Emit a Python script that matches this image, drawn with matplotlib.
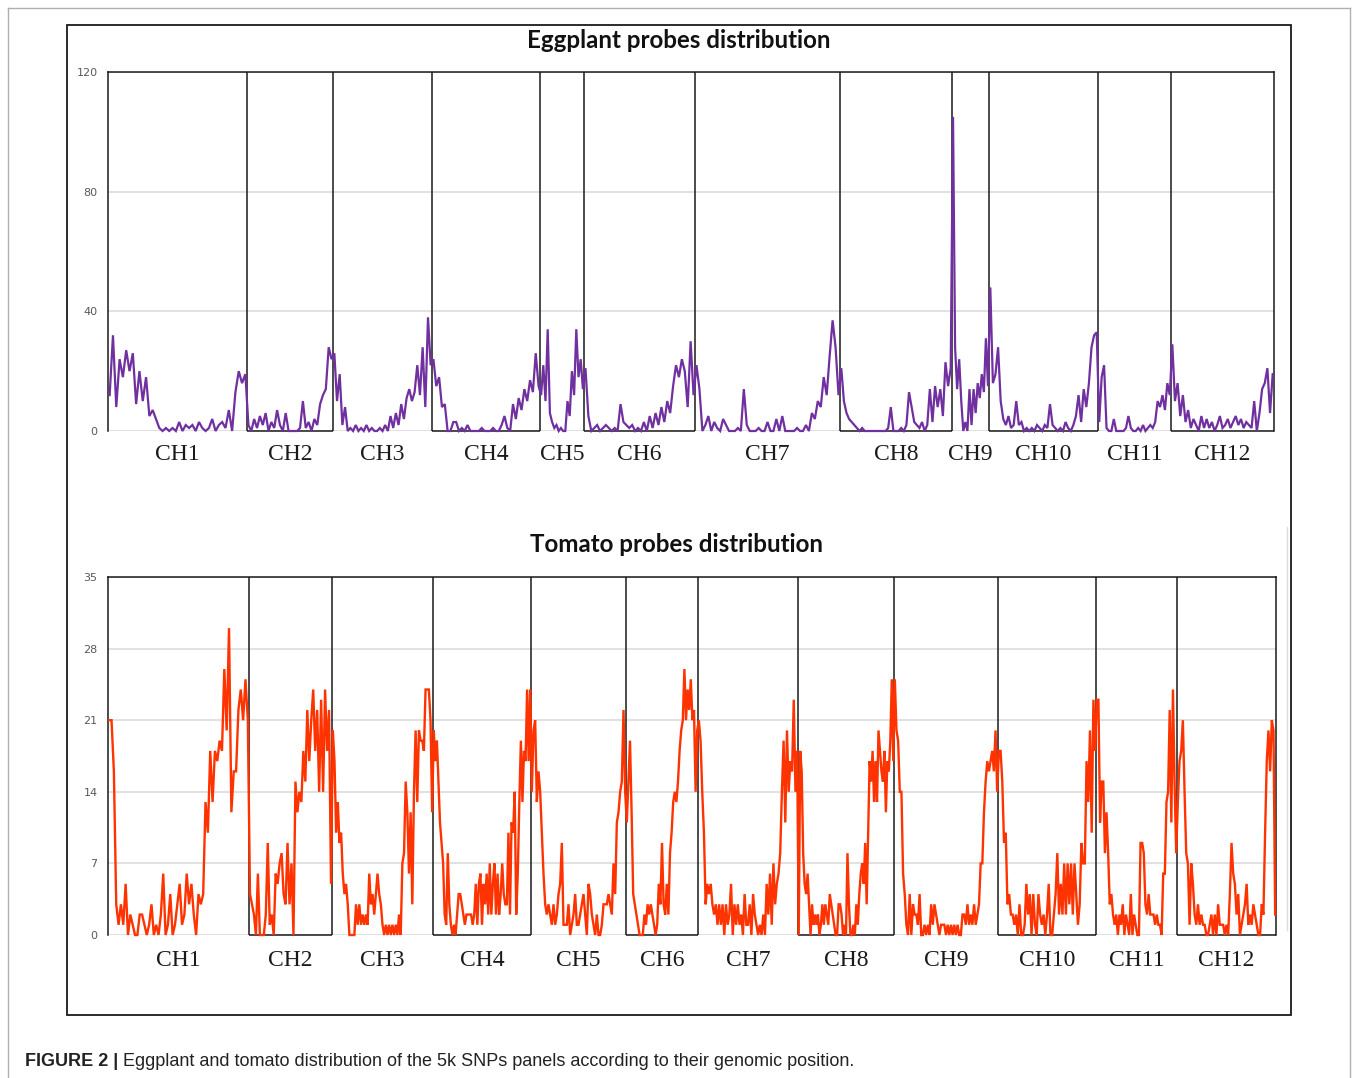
import matplotlib
matplotlib.use("Agg")
import matplotlib.pyplot as plt
import matplotlib.transforms as mtransforms
from matplotlib.lines import Line2D
from matplotlib.patches import Rectangle
import numpy as np

# ---------------- data ----------------
chrom_labels = ["CH1", "CH2", "CH3", "CH4", "CH5", "CH6",
                "CH7", "CH8", "CH9", "CH10", "CH11", "CH12"]

# relative chromosome lengths (as drawn)
eggplant_lengths = [139, 86, 99, 108, 44, 111, 145, 112, 37, 109, 73, 103]
tomato_lengths = [141, 83, 101, 98, 95, 72, 100, 96, 104, 98, 81, 99]

# number of probes per bin, eggplant
egg_ch1 = [12, 32, 8, 24, 18, 27, 20, 26, 9, 20, 10, 18, 5, 7, 4, 1, 0, 1, 0, 1, 0, 3, 0, 2, 1,
           2, 0, 3, 1, 0, 1, 4, 0, 2, 3, 1, 7, 0, 13, 20, 16, 19]
egg_ch2 = [2, 0, 4, 1, 5, 2, 6, 0, 3, 1, 7, 2, 0, 6, 0, 0, 0, 0, 1, 10, 1, 3, 0, 4, 2, 9, 12, 14, 28, 24]
egg_ch3 = [26, 10, 19, 2, 8, 0, 1, 0, 2, 0, 1, 0, 2, 0, 1, 0, 0, 1, 0, 2, 0, 5, 1, 6, 2, 9, 4,
           11, 14, 10, 13, 22, 12, 28, 8, 38, 22]
egg_ch4 = [24, 15, 18, 8, 9, 0, 0, 3, 3, 0, 1, 0, 2, 0, 0, 0, 0, 1, 0, 0, 0, 1, 0, 0, 2, 5, 1, 0,
           9, 4, 11, 7, 14, 10, 17, 13, 26, 15]
egg_ch5 = [12, 22, 10, 34, 6, 3, 1, 2, 0, 1, 0, 0, 10, 5, 20, 12, 34, 18, 24, 14]
egg_ch6 = [21, 5, 0, 1, 2, 0, 1, 2, 1, 0, 1, 0, 9, 3, 2, 1, 2, 0, 1, 0, 3, 0, 5, 1, 6, 2, 8, 3,
           10, 6, 15, 22, 18, 24, 20, 8, 30, 12]
egg_ch7 = [22, 14, 0, 2, 5, 0, 3, 1, 0, 4, 2, 0, 0, 0, 1, 0, 14, 2, 0, 0, 0, 1, 0, 0, 3, 0, 0, 4,
           0, 5, 0, 0, 0, 0, 1, 0, 0, 2, 0, 6, 4, 10, 8, 18, 12, 25, 37, 28, 12]
egg_ch8 = [21, 10, 6, 4, 3, 2, 1, 0, 1, 0, 0, 0, 0, 0, 0, 0, 0, 0, 1, 8, 0, 0, 0, 1, 0, 2, 13, 8,
           3, 2, 1, 3, 0, 2, 14, 3, 15, 8, 14, 5, 23, 15, 21]
egg_ch9 = [105, 28, 14, 24, 10, 0, 3, 0, 14, 2, 14, 6, 16, 11, 19, 13, 31, 15]
egg_ch10 = [48, 16, 19, 28, 10, 4, 2, 5, 1, 2, 10, 2, 3, 0, 1, 0, 1, 0, 2, 1, 0, 2, 1, 9, 2, 1, 0,
            1, 0, 3, 1, 0, 2, 5, 12, 3, 14, 8, 16, 28, 32, 33]
egg_ch11 = [3, 18, 22, 1, 0, 0, 4, 0, 0, 0, 0, 1, 5, 1, 0, 0, 1, 0, 2, 0, 1, 2, 1, 3, 10, 8, 12,
            7, 16, 12]
egg_ch12 = [29, 10, 16, 5, 12, 3, 7, 1, 4, 2, 0, 5, 1, 4, 1, 3, 0, 2, 5, 1, 2, 4, 1, 3, 5, 2, 4,
            1, 3, 2, 1, 10, 0, 6, 14, 16, 21, 6, 19]

# number of probes per bin, tomato
tom_ch1 = [21, 21, 16, 3, 1, 3, 1, 5, 0, 2, 1, 0, 0, 2, 2, 1, 0, 1, 3, 0, 1, 0, 2, 6, 0, 1, 4, 0,
           1, 3, 5, 1, 2, 6, 3, 5, 2, 0, 4, 3, 4, 13, 10, 18, 13, 18, 17, 19, 18, 26, 20, 30, 12,
           16, 16, 22, 24, 21, 25, 21]
tom_ch2 = [4, 3, 2, 0, 6, 0, 0, 0, 2, 9, 1, 2, 0, 6, 5, 7, 8, 4, 3, 9, 3, 7, 0, 15, 12, 14, 13,
           18, 15, 22, 17, 21, 24, 18, 22, 14, 23, 14, 24, 18, 22, 5]
tom_ch3 = [20, 17, 10, 13, 9, 10, 6, 4, 5, 3, 0, 0, 0, 0, 3, 1, 3, 1, 2, 1, 2, 1, 6, 3, 4, 2, 4,
           6, 4, 3, 1, 0, 1, 0, 1, 0, 1, 0, 1, 0, 2, 0, 7, 8, 15, 12, 6, 12, 3, 14, 20, 13, 20,
           19, 19, 18, 24, 24, 24, 21, 12]
tom_ch4 = [20, 17, 19, 15, 11, 9, 7, 2, 1, 8, 3, 1, 0, 1, 0, 2, 4, 4, 3, 2, 1, 2, 2, 2, 2, 1, 2,
           5, 1, 5, 6, 1, 5, 3, 6, 2, 7, 2, 5, 7, 2, 6, 2, 4, 7, 4, 3, 3, 10, 2, 11, 10, 14, 2,
           6, 13, 19, 13, 18, 17, 24, 17, 24]
tom_ch5 = [14, 20, 21, 13, 16, 14, 10, 6, 3, 2, 3, 2, 1, 3, 1, 2, 4, 5, 9, 1, 1, 1, 3, 0, 1, 2,
           4, 1, 1, 2, 3, 4, 2, 0, 5, 4, 2, 1, 0, 2, 0, 0, 1, 3, 3, 3, 4, 3, 2, 7, 4, 11, 12, 14,
           15, 22, 14]
tom_ch6 = [11, 15, 19, 12, 4, 3, 2, 1, 0, 0, 0, 2, 1, 3, 2, 3, 2, 1, 0, 1, 5, 3, 9, 3, 2, 5, 2,
           8, 10, 13, 14, 13, 15, 18, 20, 21, 26, 21, 24, 22, 25, 21, 22, 14, 20]
tom_ch7 = [21, 19, 14, 10, 3, 5, 4, 5, 3, 2, 3, 1, 3, 1, 3, 0, 3, 1, 2, 5, 0, 3, 1, 3, 1, 2, 0,
           4, 1, 1, 3, 0, 4, 2, 1, 0, 1, 0, 2, 0, 5, 2, 6, 1, 7, 3, 5, 6, 8, 14, 19, 11, 20, 14,
           17, 16, 23, 14, 18]
tom_ch8 = [0, 18, 16, 8, 5, 4, 6, 3, 0, 3, 1, 2, 1, 2, 0, 1, 3, 1, 3, 2, 1, 4, 3, 2, 1, 0, 0, 3,
           3, 2, 0, 1, 0, 8, 3, 0, 0, 1, 0, 3, 1, 4, 6, 7, 5, 9, 3, 10, 17, 15, 18, 13, 17, 13,
           20, 18, 16, 15, 18, 12, 17, 16, 19, 25, 17]
tom_ch9 = [25, 20, 19, 14, 14, 6, 4, 1, 0, 4, 0, 3, 2, 2, 1, 4, 0, 0, 1, 0, 1, 0, 3, 1, 3, 2, 1,
           0, 1, 1, 1, 0, 1, 0, 1, 0, 1, 0, 1, 0, 0, 2, 2, 1, 3, 1, 2, 1, 3, 1, 2, 3, 7, 7, 12,
           15, 17, 16, 17, 18, 16, 20, 14]
tom_ch10 = [18, 18, 15, 9, 10, 3, 4, 2, 2, 1, 2, 0, 3, 0, 0, 1, 5, 2, 4, 0, 4, 1, 0, 4, 2, 1, 2,
            0, 2, 5, 0, 0, 2, 4, 8, 2, 5, 2, 7, 2, 7, 3, 7, 2, 7, 4, 1, 3, 9, 7, 7, 17, 13, 20,
            10, 23, 18]
tom_ch11 = [23, 23, 11, 15, 15, 8, 12, 8, 3, 4, 2, 1, 2, 0, 2, 1, 3, 0, 2, 1, 0, 4, 0, 2, 1, 0,
            0, 9, 9, 8, 3, 2, 4, 2, 2, 2, 1, 2, 1, 1, 0, 6, 6, 13, 14, 22, 11, 24, 15, 8]
tom_ch12 = [13, 17, 18, 21, 14, 8, 7, 1, 7, 5, 2, 1, 3, 1, 2, 1, 1, 0, 0, 1, 2, 0, 2, 0, 3, 1, 1,
            1, 0, 1, 0, 4, 9, 6, 5, 2, 4, 0, 1, 2, 3, 5, 1, 2, 1, 3, 2, 1, 0, 0, 3, 2, 10, 17,
            20, 16, 21, 20, 2]

eggplant_values = [egg_ch1, egg_ch2, egg_ch3, egg_ch4, egg_ch5, egg_ch6,
                   egg_ch7, egg_ch8, egg_ch9, egg_ch10, egg_ch11, egg_ch12]
tomato_values = [tom_ch1, tom_ch2, tom_ch3, tom_ch4, tom_ch5, tom_ch6,
                 tom_ch7, tom_ch8, tom_ch9, tom_ch10, tom_ch11, tom_ch12]

eggplant_yticks = [0, 40, 80, 120]
tomato_yticks = [0, 7, 14, 21, 28, 35]

eggplant_title = "Eggplant probes distribution"
tomato_title = "Tomato probes distribution"
caption_bold = "FIGURE 2 |"
caption_text = "Eggplant and tomato distribution of the 5k SNPs panels according to their genomic position."

# ---------------- figure ----------------
W, H = 1358, 1078
fig = plt.figure(figsize=(W / 100, H / 100), dpi=100)
fig.patch.set_facecolor("white")


def fx(x):
    return x / W


def fy(y):
    return 1 - y / H


# outer light frame and inner black frame
fig.add_artist(Line2D([fx(8), fx(8)], [fy(8), 0], color="#b0b0b0", lw=1.0))
fig.add_artist(Line2D([fx(8), fx(1350)], [fy(8), fy(8)], color="#b0b0b0", lw=1.0))
fig.add_artist(Line2D([fx(1350), fx(1350)], [fy(8), 0], color="#b0b0b0", lw=1.0))
fig.add_artist(Rectangle((fx(67), fy(1015)), fx(1291) - fx(67), fy(25) - fy(1015),
                         fill=False, edgecolor="#1a1a1a", lw=1.3))
fig.add_artist(Line2D([fx(1287), fx(1287)], [fy(527), fy(930)], color="#dddddd", lw=1.0))


def draw_panel(rect, lengths, values, ymax, yticks, color, lw, label_y):
    ax = fig.add_axes(rect)
    lengths = np.asarray(lengths, dtype=float)
    ends = np.cumsum(lengths)
    starts = ends - lengths
    xs, ys = [], []
    for s, L, vals in zip(starts, lengths, values):
        n = len(vals)
        xs.extend(s + (np.arange(n) + 0.5) * L / n)
        ys.extend(vals)
    ax.set_xlim(0, ends[-1])
    ax.set_ylim(0, ymax)
    ax.set_yticks(yticks)
    ax.set_xticks([])
    ax.yaxis.grid(True, color="#d9d9d9", lw=1.1)
    ax.set_axisbelow(True)
    ax.tick_params(axis="y", length=0, pad=7.5, labelsize=8, labelcolor="#595959")
    for sp in ("top", "left", "right"):
        ax.spines[sp].set_color("#1a1a1a")
        ax.spines[sp].set_linewidth(1.1)
    ax.spines["bottom"].set_visible(False)
    # chromosome boxes
    ax.vlines(ends[:-1], 0, ymax, color="#1a1a1a", lw=1.1, zorder=2)
    ax.hlines([0] * len(starts[1::2]), starts[1::2], ends[1::2], color="#1a1a1a",
              lw=1.1, zorder=2, clip_on=False)
    ax.plot(xs, ys, color=color, lw=lw, zorder=3, clip_on=False, solid_joinstyle="miter")
    trans = mtransforms.blended_transform_factory(ax.transData, ax.transAxes)
    for s, L, lab in zip(starts, lengths, chrom_labels):
        ax.text(s + L / 2, label_y, lab, transform=trans, ha="center", va="center",
                fontfamily="Liberation Serif", fontsize=17, color="#1a1a1a")
    return ax


egg_rect = [fx(108), fy(431), fx(1274) - fx(108), fy(72) - fy(431)]
tom_rect = [fx(108), fy(935), fx(1276) - fx(108), fy(577) - fy(935)]

draw_panel(egg_rect, eggplant_lengths, eggplant_values, 120, eggplant_yticks,
           "#7030a0", 1.6, -0.066)
draw_panel(tom_rect, tomato_lengths, tomato_values, 35, tomato_yticks,
           "#ff3300", 1.7, -0.070)

fig.text(fx(679), fy(40), eggplant_title, ha="center", va="center",
         fontfamily="Lato", fontweight="bold", fontsize=17.4, color="#111111")
fig.text(fx(677), fy(544), tomato_title, ha="center", va="center",
         fontfamily="Lato", fontweight="bold", fontsize=17.4, color="#111111")

t1 = fig.text(fx(25), fy(1061), caption_bold, ha="left", va="center",
              fontfamily="Liberation Sans", fontweight="bold", fontsize=13, color="#222222")
renderer = fig.canvas.get_renderer()
bb = t1.get_window_extent(renderer=renderer)
fig.text(bb.x1 / W + fx(5), fy(1061), caption_text, ha="left", va="center",
         fontfamily="Liberation Sans", fontsize=13, color="#222222")

fig.savefig("out.png", dpi=100, facecolor="white")
